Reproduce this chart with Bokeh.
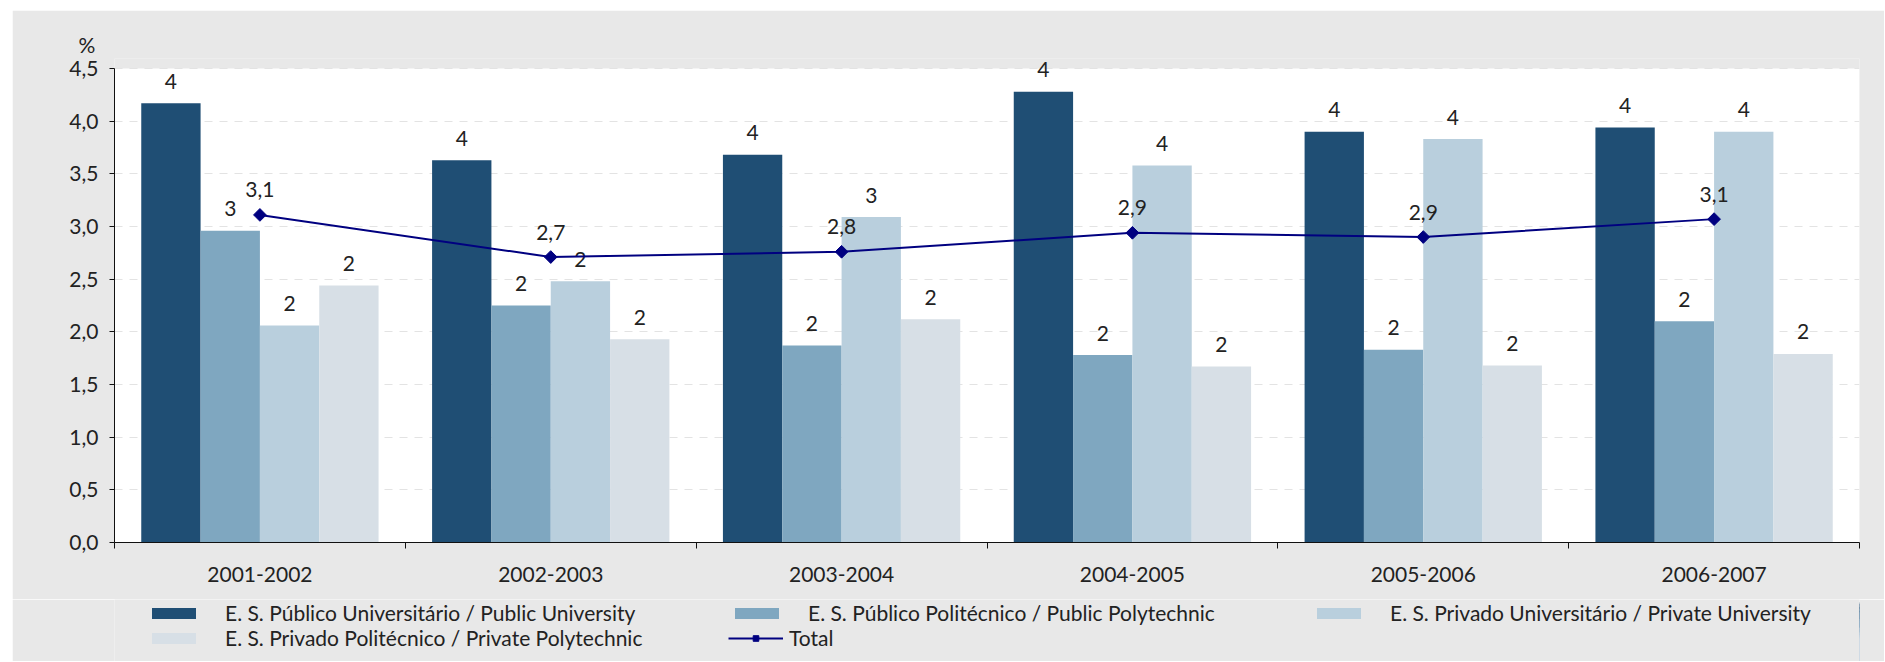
import numpy as np
from bokeh.plotting import figure
from bokeh.layouts import column
from bokeh.models import (ColumnDataSource, FixedTicker, Legend, LegendItem,
                          Range1d, CustomJSTickFormatter, BoxAnnotation)
from bokeh.core.properties import value
from bokeh.embed import file_html
from bokeh.resources import INLINE

# ---------------- data ----------------
years = ["2001-2002", "2002-2003", "2003-2004", "2004-2005", "2005-2006", "2006-2007"]
public_university = [4.17, 3.63, 3.68, 4.28, 3.90, 3.94]
public_polytechnic = [2.96, 2.25, 1.87, 1.78, 1.83, 2.10]
private_university = [2.06, 2.48, 3.09, 3.58, 3.83, 3.90]
private_polytechnic = [2.44, 1.93, 2.12, 1.67, 1.68, 1.79]
total = [3.11, 2.71, 2.76, 2.94, 2.90, 3.07]
series_names = [
    "E. S. Público Universitário / Public University",
    "E. S. Público Politécnico / Public Polytechnic",
    "E. S. Privado Universitário / Private University",
    "E. S. Privado Politécnico / Private Polytechnic",
]
total_name = "Total"
y_ticks = [0.0, 0.5, 1.0, 1.5, 2.0, 2.5, 3.0, 3.5, 4.0, 4.5]
y_unit = "%"

# ---------------- style ----------------
FONT = "Lato"
FS = "21px"
TXT = "#222222"
BG = "#E8E8E8"
colors = ["#1F4E74", "#7FA7C0", "#B9CFDD", "#D7DFE6"]
line_color = "#000080"
bar_w = 0.204
offsets = [-1.5 * bar_w, -0.5 * bar_w, 0.5 * bar_w, 1.5 * bar_w]
BL, FW, BR = 102, 1745, 25        # left border, frame width, right border

n = len(years)
centers = [i + 0.5 for i in range(n)]
y_max = y_ticks[-1]
plot_h = 474                       # pixel height of the 0..y_max plot area
head_px = 10                       # extra frame room above the plot area for labels
y_end = y_max + head_px * y_max / plot_h

p = figure(x_range=Range1d(0, n), y_range=Range1d(0, y_end),
           frame_width=FW, frame_height=plot_h + head_px,
           min_border_left=BL, min_border_right=BR,
           min_border_top=48, min_border_bottom=57,
           output_backend="svg", toolbar_location=None,
           background_fill_color=BG, border_fill_color=BG,
           outline_line_color=None)

# white plot area (0..n, 0..y_max)
p.add_layout(BoxAnnotation(left=0, right=n, bottom=0, top=y_max,
                           fill_color="white", fill_alpha=1.0,
                           line_color=None, level="image"))

# "%" above the y axis
p.title.text = y_unit
p.title.align = "left"
p.title.offset = -36
p.title.standoff = 3
p.title.text_font = FONT
p.title.text_font_size = FS
p.title.text_font_style = "normal"
p.title.text_color = TXT

# axes
yax = p.yaxis[0]
yax.ticker = FixedTicker(ticks=y_ticks)
yax.bounds = (0, y_max)
yax.formatter = CustomJSTickFormatter(code="return tick.toFixed(1).replace('.', ',');")
yax.major_tick_out = 5
yax.major_tick_in = 0
yax.minor_tick_out = 0
yax.minor_tick_in = 0
yax.major_label_standoff = 11
yax.axis_line_color = "#111111"
yax.major_tick_line_color = "#111111"
yax.major_label_text_font = FONT
yax.major_label_text_font_size = FS
yax.major_label_text_color = TXT

xax = p.xaxis[0]
xax.ticker = FixedTicker(ticks=centers, minor_ticks=list(range(n + 1)))
xax.major_label_overrides = {c: y for c, y in zip(centers, years)}
xax.major_tick_out = 0
xax.major_tick_in = 0
xax.minor_tick_out = 6
xax.minor_tick_in = 0
xax.minor_tick_line_color = "#111111"
xax.axis_line_color = "#111111"
xax.major_label_standoff = 18
xax.major_label_text_font = FONT
xax.major_label_text_font_size = FS
xax.major_label_text_color = TXT

p.xgrid.visible = False
p.ygrid.ticker = FixedTicker(ticks=y_ticks)
p.ygrid.bounds = (0, y_max)
p.ygrid.grid_line_color = "#E3E3E3"
p.ygrid.grid_line_dash = "8 7"
p.ygrid.grid_line_width = 1

# bars
series = [public_university, public_polytechnic, private_university, private_polytechnic]
for k, vals in enumerate(series):
    xs = [c + offsets[k] for c in centers]
    src = ColumnDataSource(dict(x=xs, top=vals, label=[str(int(round(v))) for v in vals]))
    p.vbar(x="x", top="top", width=bar_w, source=src,
           fill_color=colors[k], line_color=None)
    p.text(x="x", y="top", text="label", source=src,
           text_font=value(FONT), text_font_size=FS, text_color=TXT,
           text_align="center", text_baseline="middle", y_offset=-22)

# total line
tsrc = ColumnDataSource(dict(x=centers, y=total,
                             label=[f"{v:.1f}".replace(".", ",") for v in total]))
p.line(x="x", y="y", source=tsrc, line_color=line_color, line_width=2)
p.scatter(x="x", y="y", source=tsrc, marker="square", size=9, angle=np.pi / 4,
          fill_color=line_color, line_color=line_color)
p.text(x="x", y="y", text="label", source=tsrc,
       text_font=value(FONT), text_font_size=FS, text_color=TXT,
       text_align="center", text_baseline="middle", y_offset=-25)

# ---------------- legend strip (separate figure; legend drawn inside its frame) ----------------
# The strip's ranges lie outside the data, so its renderers only provide legend swatches.
LH = 62
lg = figure(frame_width=FW, frame_height=LH,
            x_range=Range1d(-2 * n, -n), y_range=Range1d(0, y_max),
            min_border_left=BL, min_border_right=BR, min_border_top=0, min_border_bottom=0,
            x_axis_type=None, y_axis_type=None,
            output_backend="svg", toolbar_location=None,
            background_fill_color=BG, border_fill_color=BG, outline_line_color=None)
lg.grid.visible = False

swatches = []
for k, vals in enumerate(series):
    swatches.append(lg.vbar(x=[c + offsets[k] for c in centers], top=vals, width=bar_w,
                            fill_color=colors[k], line_color=None))
tl = lg.line(x=centers, y=total, line_color=line_color, line_width=2)
ts = lg.scatter(x=centers, y=total, marker="square", size=9, angle=np.pi / 4,
                fill_color=line_color, line_color=line_color)

# (label, renderers, left px, bottom px, standoff) relative to the strip's frame
legend_specs = [
    (series_names[0], [swatches[0]], 32, 36, 24),
    (series_names[1], [swatches[1]], 615, 36, 24),
    (series_names[2], [swatches[2]], 1197, 36, 24),
    (series_names[3], [swatches[3]], 32, 11, 24),
    (total_name, [tl, ts], 614, 11, 6),
]
for label, rends, lx, ly, standoff in legend_specs:
    leg = Legend(items=[LegendItem(label=label, renderers=rends)],
                 location=(lx, ly), orientation="vertical",
                 padding=0, margin=0, spacing=0,
                 glyph_width=55, glyph_height=14, label_standoff=standoff,
                 border_line_color=None, background_fill_alpha=0,
                 label_text_font=FONT, label_text_font_size=FS,
                 label_text_color=TXT)
    lg.add_layout(leg, "center")

layout = column(p, lg, spacing=0, margin=(10, 0, 0, 12))

open("out.html", "w").write(file_html(layout, INLINE))
